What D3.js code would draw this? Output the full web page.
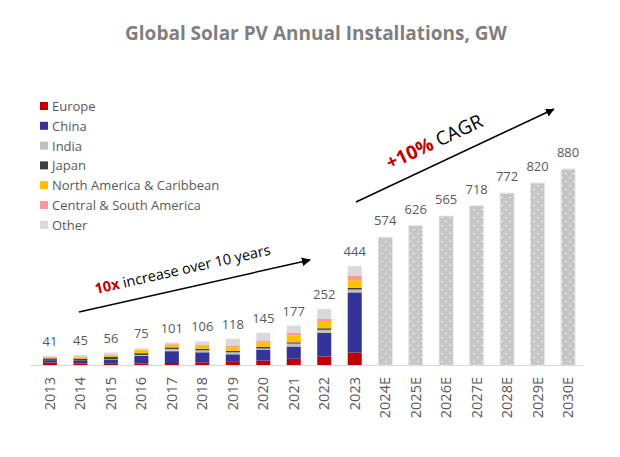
<!DOCTYPE html>
<html><head><meta charset="utf-8">
<script src="https://cdn.jsdelivr.net/npm/d3@7/dist/d3.min.js"></script>
<style>body{margin:0;background:#fff}svg{display:block;font-family:"Open Sans",sans-serif}</style>
</head><body><svg id="c" width="620" height="457"></svg>
<script>
const years = ["2013","2014","2015","2016","2017","2018","2019","2020","2021","2022","2023"];
const europe = [11,7,8,7,9,12,17,20,28,38,56];
const china  = [11,11,15,34,53,45,31,49,55,106,270];
const india  = [1,1,2,4,10,9,9,5,13,14,13];
const japan  = [7,10,11,8,7,7,7,8,6,7,7];
const northAmerica = [5,6,8,15,12,13,16,20,30,28,35];
const centralSouthAmerica = [1,1,1,1,3,6,8,8,12,14,21];
const other = [5,9,11,6,7,14,30,35,33,45,42];
const actualLabels = ["41","45","56","75","101","106","118","145","177","252","444"];
const forecastYears = ["2024E","2025E","2026E","2027E","2028E","2029E","2030E"];
const forecastValues = [574,626,669,715,772,817,880];
const forecastLabels = ["574","626","565","718","772","820","880"];
const seriesNames = ["Europe","China","India","Japan","North America & Caribbean","Central & South America","Other"];
const seriesColors = ["#c00000","#333399","#bfbfbf","#404040","#ffc000","#ff9999","#d9d9d9"];

const svg = d3.select("#c");
const allYears = years.concat(forecastYears);
const x = d3.scaleBand().domain(allYears).range([35,583]).paddingInner(0.54).paddingOuter(0.26);
const y = d3.scaleLinear().domain([0,1000]).range([365,142.3]);

// pattern
const defs = svg.append("defs");
const pat = defs.append("pattern").attr("id","dots").attr("patternUnits","userSpaceOnUse")
  .attr("width",8).attr("height",8);
pat.append("rect").attr("width",8).attr("height",8).attr("fill","#c6c6c6");
pat.append("rect").attr("x",1).attr("y",1).attr("width",2).attr("height",1).attr("fill","#f2f2f2");
pat.append("rect").attr("x",5).attr("y",5).attr("width",2).attr("height",1).attr("fill","#f2f2f2");

// title
svg.append("text").attr("x",316).attr("y",40).attr("text-anchor","middle")
  .attr("font-size",19).attr("font-weight",700).attr("fill","#7f7f7f")
  .text("Global Solar PV Annual Installations, GW");

// stacked data
const rows = years.map((yr,i)=>({year:yr, Europe:europe[i], China:china[i], India:india[i], Japan:japan[i],
  "North America & Caribbean":northAmerica[i], "Central & South America":centralSouthAmerica[i], Other:other[i]}));
const stack = d3.stack().keys(seriesNames)(rows);
svg.append("g").selectAll("g").data(stack).join("g")
  .attr("fill",(d,i)=>seriesColors[i])
  .selectAll("rect").data(d=>d).join("rect")
  .attr("x",d=>x(d.data.year)).attr("width",x.bandwidth())
  .attr("y",d=>y(d[1])).attr("height",d=>y(d[0])-y(d[1]));

// forecast bars
svg.append("g").selectAll("rect").data(forecastYears).join("rect")
  .attr("x",d=>x(d)).attr("width",x.bandwidth())
  .attr("y",(d,i)=>y(forecastValues[i])).attr("height",(d,i)=>y(0)-y(forecastValues[i]))
  .attr("fill","url(#dots)").attr("stroke","#e4e4e4").attr("stroke-width",0.8);

// labels
const totals = rows.map(r=>seriesNames.reduce((s,k)=>s+r[k],0));
const lab = svg.append("g").attr("font-size",13).attr("fill","#595959").attr("text-anchor","middle");
years.forEach((yr,i)=>lab.append("text").attr("x",x(yr)+x.bandwidth()/2).attr("y",y(totals[i])-10).text(actualLabels[i]));
forecastYears.forEach((yr,i)=>lab.append("text").attr("x",x(yr)+x.bandwidth()/2).attr("y",y(forecastValues[i])-12).text(forecastLabels[i]));

// axis
const ax = svg.append("g").attr("transform","translate(0,365)")
  .call(d3.axisBottom(x).tickSize(0).tickPadding(0));
ax.select(".domain").attr("stroke","#d9d9d9").attr("d","M30,0.5H583");
ax.selectAll(".tick text").attr("font-family","Open Sans").attr("font-size",14.5).attr("fill","#595959")
  .attr("transform","rotate(-90)").attr("text-anchor","end").attr("dy","0.35em").attr("x",-12).attr("y",0);

// legend
const lg = svg.append("g").attr("transform","translate(40,102)");
seriesNames.forEach((n,i)=>{
  const g = lg.append("g").attr("transform",`translate(0,${i*19.8})`);
  g.append("rect").attr("width",8).attr("height",8).attr("fill",seriesColors[i]);
  g.append("text").attr("x",12).attr("y",9).attr("font-size",13).attr("fill","#595959").text(n);
});

// arrows
defs.append("marker").attr("id","ah").attr("viewBox","0 0 10 10").attr("refX",9).attr("refY",5)
  .attr("markerWidth",6).attr("markerHeight",6).attr("orient","auto")
  .append("path").attr("d","M0,0L10,5L0,10z").attr("fill","#000");
svg.append("line").attr("x1",79).attr("y1",312).attr("x2",310).attr("y2",260)
  .attr("stroke","#000").attr("stroke-width",1.5).attr("marker-end","url(#ah)");
svg.append("line").attr("x1",356).attr("y1",202).attr("x2",554).attr("y2",109)
  .attr("stroke","#000").attr("stroke-width",1.5).attr("marker-end","url(#ah)");

const a1 = svg.append("text").attr("transform","translate(96,294) rotate(-12.7)").attr("font-size",14.5).attr("fill","#000");
a1.append("tspan").attr("font-weight",700).attr("fill","#c00000").text("10x");
a1.append("tspan").text(" increase over 10 years");
const a2 = svg.append("text").attr("transform","translate(390,170) rotate(-25.2)").attr("font-size",19).attr("fill","#000");
a2.append("tspan").attr("font-weight",700).attr("fill","#c00000").text("+10%");
a2.append("tspan").text(" CAGR");
</script></body></html>
